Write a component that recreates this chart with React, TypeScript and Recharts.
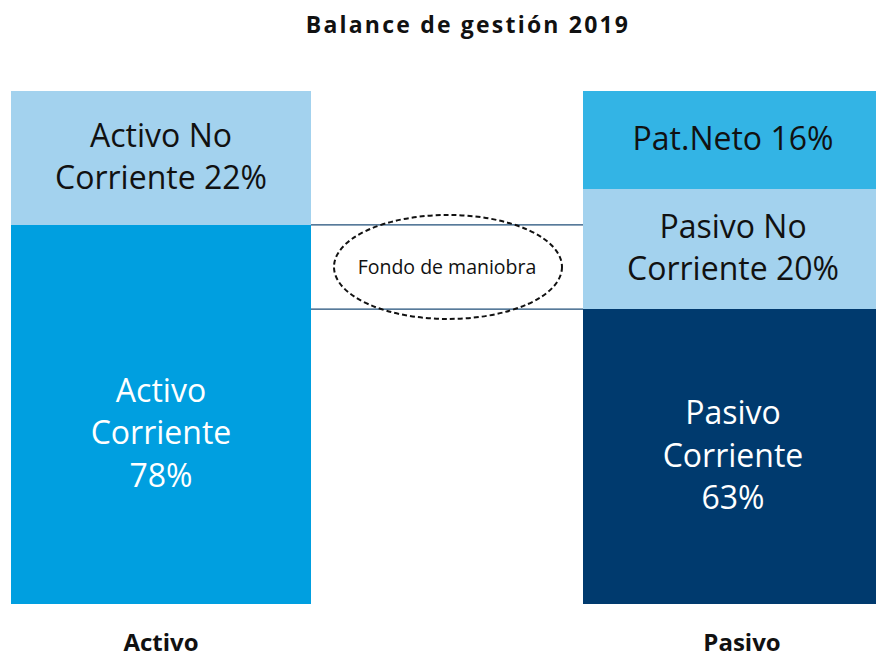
import { BarChart, Bar, XAxis, YAxis, Cell, LabelList, ReferenceArea } from 'recharts'

// Balance de gestión 2019 - two stacked columns with the "fondo de maniobra" gap between them

const categories = ['Activo', 'Pasivo']
const corriente = [73.9, 57.5]
const noCorriente = [26.1, 23.4]
const patNeto = [0, 19.1]

const corrienteLabels = [
  ['Activo', 'Corriente', '78%'],
  ['Pasivo', 'Corriente', '63%']
]
const noCorrienteLabels = [
  ['Activo No', 'Corriente 22%'],
  ['Pasivo No', 'Corriente 20%']
]
const patNetoLabels = [[], ['Pat.Neto 16%']]

const title = 'Balance de gestión 2019'
const gapLabel = 'Fondo de maniobra'

const FONT = '"Open Sans", sans-serif'
const BAR = 300
const corrienteColors = ['#009fe0', '#003a6e']
const noCorrienteColor = '#a3d2ee'
const patNetoColor = '#33b4e5'

const data = categories.map((name, i) => ({
  name,
  corriente: corriente[i],
  noCorriente: noCorriente[i],
  patNeto: patNeto[i]
}))

// label text sits a little lower in the big Activo Corriente block
const shiftFor = (lines: string[][], i: number) => (lines === corrienteLabels && i === 0 ? 17 : -3)

const makeLabel = (lines: string[][], color: string) => (props: any) => {
  const { x, y, width, height, value } = props
  const i = categories.indexOf(value)
  const txt = lines[i] || []
  if (!txt.length || !height) return null
  const lh = 42.5
  const cx = x + width / 2
  const cy = y + height / 2 - ((txt.length - 1) * lh) / 2 + shiftFor(lines, i)
  return (
    <text
      x={cx}
      y={cy}
      textAnchor="middle"
      dominantBaseline="central"
      fill={color}
      fontFamily={FONT}
      fontSize={32}
    >
      {txt.map((t, k) => (
        <tspan key={k} x={cx} dy={k === 0 ? 0 : lh}>
          {t}
        </tspan>
      ))}
    </text>
  )
}

const GapShape = (props: any) => {
  const { x, y, width, height } = props
  const band = width / 2
  const left = x + band / 2 + BAR / 2
  const right = x + width - band / 2 - BAR / 2
  const cx = (left + right) / 2
  const cy = y + height / 2
  return (
    <g>
      <line x1={left} x2={right} y1={y} y2={y} stroke="#1f4e79" strokeWidth={1.2} />
      <line x1={left} x2={right} y1={y + height} y2={y + height} stroke="#1f4e79" strokeWidth={1.2} />
      <ellipse cx={cx + 1} cy={cy} rx={114} ry={52} fill="none" stroke="#111" strokeWidth={2} strokeDasharray="5 3" />
      <text x={cx} y={cy} textAnchor="middle" dominantBaseline="central" fontFamily={FONT} fontSize={19.5} fill="#111">
        {gapLabel}
      </text>
    </g>
  )
}

const CategoryTick = (props: any) => {
  const { x, payload } = props
  // the Pasivo caption sits slightly right of its column centre
  const dx = payload.index === 1 ? 9 : 0
  return (
    <text x={x + dx} y={651} textAnchor="middle" fontFamily={FONT} fontSize={24} fontWeight={700} fill="#111">
      {payload.value}
    </text>
  )
}

export default function App() {
  return (
    <div
      style={{
        position: 'absolute',
        left: 0,
        top: 0,
        width: 876,
        height: 660,
        overflow: 'hidden',
        background: '#fff'
      }}
    >
      <div
        style={{
          position: 'absolute',
          top: 9,
          left: 0,
          width: 936,
          textAlign: 'center',
          fontFamily: FONT,
          fontSize: 23,
          fontWeight: 700,
          letterSpacing: 2.2,
          lineHeight: '30px',
          color: '#111'
        }}
      >
        {title}
      </div>
      <div style={{ position: 'absolute', left: -125, top: 0 }}>
        <BarChart
          width={1144}
          height={660}
          data={data}
          margin={{ top: 91, right: 0, bottom: 0, left: 0 }}
          barSize={BAR}
        >
          <XAxis
            dataKey="name"
            height={56}
            axisLine={false}
            tickLine={false}
            tick={<CategoryTick />}
            interval={0}
          />
          <YAxis hide domain={[0, 100]} />
          <Bar dataKey="corriente" stackId="a" isAnimationActive={false}>
            {data.map((d, i) => (
              <Cell key={d.name} fill={corrienteColors[i]} />
            ))}
            <LabelList dataKey="name" content={makeLabel(corrienteLabels, '#fff')} />
          </Bar>
          <Bar dataKey="noCorriente" stackId="a" fill={noCorrienteColor} isAnimationActive={false}>
            <LabelList dataKey="name" content={makeLabel(noCorrienteLabels, '#111')} />
          </Bar>
          <Bar dataKey="patNeto" stackId="a" fill={patNetoColor} isAnimationActive={false}>
            <LabelList dataKey="name" content={makeLabel(patNetoLabels, '#111')} />
          </Bar>
          <ReferenceArea
            x1="Activo"
            x2="Pasivo"
            y1={corriente[1]}
            y2={corriente[0]}
            shape={<GapShape />}
            ifOverflow="visible"
          />
        </BarChart>
      </div>
    </div>
  )
}
